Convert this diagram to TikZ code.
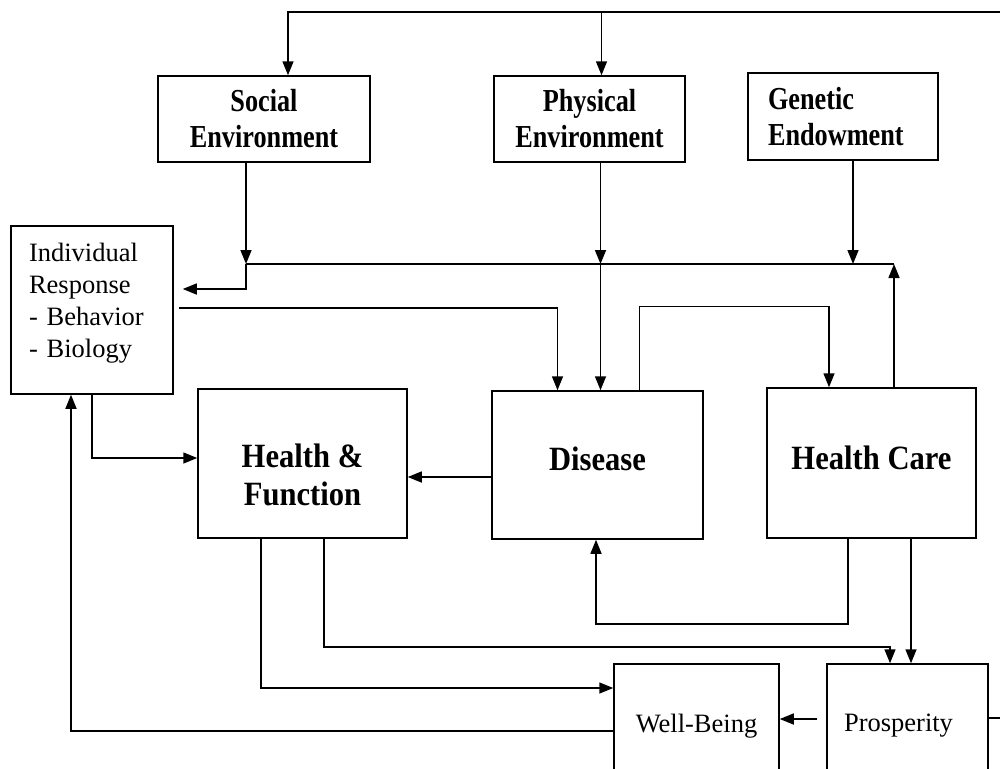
\documentclass[tikz,border=0pt]{standalone}
\usepackage{fontspec}
\setmainfont{Liberation Serif}
\newfontfamily\condfont[FakeStretch=0.82]{Liberation Serif}
\newfontfamily\semicondfont[FakeStretch=0.9]{Liberation Serif}
\usetikzlibrary{arrows.meta}

\tikzset{every picture/.style={line width=1.5pt}}
\tikzset{
  box/.style={draw, line width=1.5pt, inner sep=2pt},
  envbox/.style={box, font=\condfont\bfseries\fontsize{32}{36}\selectfont, align=center},
  bigbox/.style={box, font=\semicondfont\bfseries\fontsize{34}{38}\selectfont, align=center},
  plainbox/.style={box, font=\fontsize{26.5}{32}\selectfont},
  arr/.style={-{Triangle[length=14pt,width=11pt]}},
}

\begin{document}
\begin{tikzpicture}[x=1pt,y=-1pt]
\useasboundingbox (0,0) rectangle (1000,768);
\clip (0,0) rectangle (1000,768);
%Shape: Rectangle [determinants]
\node[envbox, minimum width=212pt, minimum height=86pt] (soc) at (264,119) {Social\\Environment};
\node[envbox, minimum width=191pt, minimum height=86pt] (phys) at (589.5,119) {Physical\\Environment};
\node[envbox, align=left, text width=150pt, inner xsep=20pt, minimum height=87pt] (gen) at (843,116.5) {Genetic\\Endowment};
%Shape: Rectangle [response]
\node[plainbox, align=left, text width=126pt, inner xsep=18pt, minimum height=168pt] (ir) at (92,310) {Individual\\Response\\- Behavior\\- Biology\rule[-19pt]{0pt}{0pt}};
%Shape: Rectangle [outcomes]
\node[bigbox, minimum width=209pt, minimum height=149pt] (hf) at (302.5,463.5) {\rule{0pt}{47pt}Health \&\\Function};
\node[bigbox, minimum width=211pt, minimum height=148pt] (dis) at (597.5,465) {Disease\rule[-13pt]{0pt}{0pt}};
\node[bigbox, minimum width=209pt, minimum height=150pt] (hc) at (871.5,463) {Health Care\rule[-11pt]{0pt}{0pt}};
\node[plainbox, minimum width=165pt, minimum height=124pt] (wb) at (696.5,726) {Well-Being};
\node[plainbox, minimum width=161pt, minimum height=124pt] (pros) at (907.5,726) {Prosperity\kern18pt};

% connector points
\coordinate (top) at (1015,12);
\coordinate (bus) at (0,264);
\coordinate (socin) at ([xshift=24pt]soc.north);
\coordinate (physin) at ([xshift=12pt]phys.north);
\coordinate (socout) at ([xshift=-18pt]soc.south);
\coordinate (physout) at ([xshift=11pt]phys.south);
\coordinate (genout) at ([xshift=10pt]gen.south);
\coordinate (hcup) at ([xshift=22.5pt]hc.north);
\coordinate (irin) at ([yshift=21pt]ir.east);
\coordinate (disin) at ([xshift=-40pt]dis.north);
\coordinate (disup) at ([xshift=42pt]dis.north);
\coordinate (hcin) at ([xshift=-42.5pt]hc.north);
\coordinate (hcdown) at ([xshift=-23.5pt]hc.south);
\coordinate (disbot) at ([xshift=-1.5pt]dis.south);
\coordinate (hcpros) at ([xshift=39.5pt]hc.south);
\coordinate (hfpros) at ([xshift=21.5pt]hf.south);
\coordinate (prosin) at ([xshift=-17.5pt]pros.north);
\coordinate (hfwb) at ([xshift=-41.5pt]hf.south);

%Lines: feedback over the top
\draw[arr] ([yshift=8pt]pros.east) -| (top) -| (socin);
\draw[arr] (physin |- top) -- (physin);
%Lines: common line under the environments
\draw (socout |- bus) -- (hcup |- bus);
\draw[arr] (socout) -- (socout |- bus);
\draw[arr, shorten >=9pt] (socout |- bus) |- (irin);
\draw[arr] (physout) -- (physout |- bus);
\draw[arr] (physout |- bus) -- (physout |- dis.north);
\draw[arr] (genout) -- (genout |- bus);
\draw[arr] (hcup) -- (hcup |- bus);
%Lines: middle row
\draw[arr, shorten <=5pt] ([yshift=2pt]ir.east) -| (disin);
\draw[arr] (disup) -- ++(0,-84) -| (hcin);
\draw[arr] (ir.south) |- ([yshift=5.5pt]hf.west);
\draw[arr] ([yshift=-12pt]dis.west) -- ([yshift=-13.5pt]hf.east);
%Lines: bottom
\draw[arr] (hcdown) -- ++(0,85) -| (disbot);
\draw[arr] (hcpros) -- (hcpros |- pros.north);
\draw[arr] (hfpros) -- ++(0,108) -| (prosin);
\draw[arr] (hfwb) |- ([yshift=38pt]wb.west);
\draw[arr] ([yshift=-5pt]wb.west) -| ([xshift=-21pt]ir.south);
\draw[arr, shorten <=9pt] ([yshift=7pt]pros.west) -- ([yshift=7pt]wb.east);

\end{tikzpicture}
\end{document}
